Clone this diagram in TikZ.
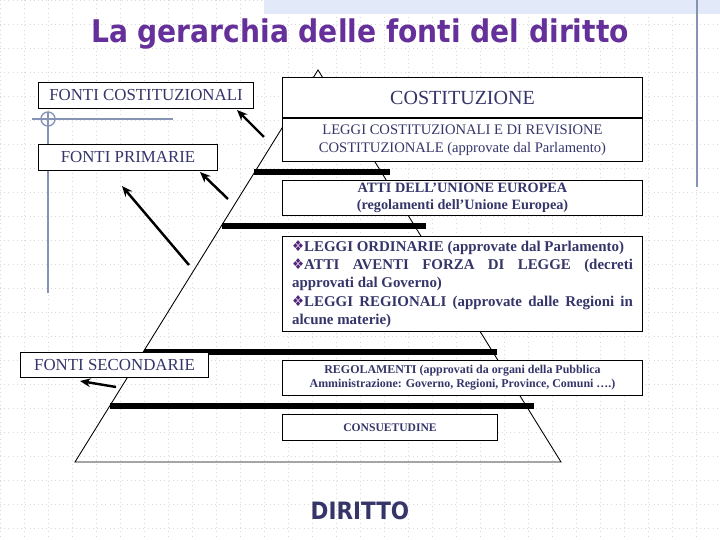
\documentclass[tikz,border=0pt]{standalone}
\usepackage{fontspec}
\setmainfont{Liberation Serif}
\newfontfamily\headfont{DejaVu Sans Condensed}
\usepackage{xcolor}
\definecolor{titlepurple}{HTML}{66309A}
\definecolor{inknavy}{HTML}{35356A}
\definecolor{rulegray}{HTML}{8593B4}
\definecolor{bandblue}{HTML}{E2E9F8}
\usetikzlibrary{
  positioning,
  arrows.meta,
  calc
}
\newcommand\nohyph{\hyphenpenalty=10000 \exhyphenpenalty=10000 }
\newcommand\bul{{\headfont\color{titlepurple!80!black}❖}}

\begin{document}
\begin{tikzpicture}[
  x=0.02cm, y=-0.02cm,
  every node/.style={text=inknavy, inner sep=0pt},
  gridline/.style={gray!30, dotted, line width=0.4pt},
  deco/.style={rulegray, line width=0.8pt},
  fonte/.style={draw=black, fill=white, line width=0.6pt,
    font=\fontsize{9.6}{11}\selectfont},
  livello/.style={draw=black, fill=white, line width=0.6pt,
    minimum width=204.7pt, align=center},
  barra/.style={line width=3pt, black},
  freccia/.style={line width=1.4pt, -{Stealth[length=6pt,width=5pt]}}
]
\useasboundingbox (0,0) rectangle (720,540);

% Background grid
\foreach \gx in {0,24,...,720}
  \draw[gridline] (\gx,0) -- (\gx,540);
\foreach \gy in {0,24,...,540}
  \draw[gridline] (0,\gy) -- (720,\gy);

% Slide decorations
\fill[bandblue] (264,0) rectangle (720,14);
\draw[deco] (697,0) -- (697,187);
\draw[deco] (32,119) -- (173,119);
\draw[deco] (48,112) -- (48,293);
\draw[deco] (48,119) circle[radius=4pt];

% Title
\node[font=\headfont\bfseries\fontsize{17.8}{21}\selectfont, text=titlepurple]
  (titolo) at (360,34) {La gerarchia delle fonti del diritto};

% Pyramid
\coordinate (apice) at (318,70);
\coordinate (bsx) at (75,462);
\coordinate (bdx) at (561,462);
\draw[line width=0.5pt] (apice) -- (bsx) -- (bdx) -- cycle;

% Levels
\node[livello, minimum height=23.2pt, font=\fontsize{11.4}{13}\selectfont]
  (cost) at (462.5,97.5) {COSTITUZIONE};
\node[livello, minimum height=25pt, font=\fontsize{8.3}{10.2}\selectfont]
  (leggicost) at (462.5,140)
  {LEGGI COSTITUZIONALI E DI REVISIONE\\COSTITUZIONALE (approvate dal Parlamento)};
\node[livello, minimum height=20.4pt, font=\bfseries\fontsize{8.1}{10}\selectfont]
  (ue) at (462.5,198)
  {ATTI DELL’UNIONE EUROPEA\\(regolamenti dell’Unione Europea)};
\node[livello, minimum height=54.4pt, text width=194pt, align=justify,
  font=\bfseries\fontsize{8.5}{10.4}\selectfont]
  (ordin) at (462.5,284)
  {\nohyph\bul LEGGI ORDINARIE (approvate dal Parlamento)\par
   \bul ATTI AVENTI FORZA DI LEGGE (decreti approvati dal Governo)\par
   \bul LEGGI REGIONALI (approvate dalle Regioni in alcune materie)};
\node[livello, minimum height=20.4pt, font=\bfseries\fontsize{6.8}{8}\selectfont]
  (regol) at (462.5,378)
  {REGOLAMENTI (approvati da organi della Pubblica\\Amministrazione: Governo, Regioni, Province, Comuni ….)};
\node[livello, minimum width=122.4pt, minimum height=15.3pt,
  font=\bfseries\fontsize{6.6}{8}\selectfont]
  (consu) at (390,427.5) {CONSUETUDINE};

% Separators
\draw[barra] (254,172) -- (390,172);
\draw[barra] (222,226) -- (426,226);
\draw[barra] (144,352) -- (497,352);
\draw[barra] (110,406) -- (534,406);

% Sources
\node[fonte, minimum width=122.4pt, minimum height=15.3pt]
  (fcost) at (146,95.5) {FONTI COSTITUZIONALI};
\node[fonte, minimum width=102pt, minimum height=15.3pt]
  (fprim) at (128,157.5) {FONTI PRIMARIE};
\node[fonte, minimum width=107pt, minimum height=14.7pt]
  (fsec) at (114.5,365) {FONTI SECONDARIE};

% Arrows
\coordinate (c1) at (264,137);
\coordinate (c2) at (228,199);
\coordinate (c3) at (189,265);
\coordinate (c4) at (116,387);
\coordinate (p1) at (237,110);
\coordinate (p2) at (200,172);
\coordinate (p3) at (122,186);
\coordinate (p4) at (80,381);
\draw[freccia] (c1) -- (p1);
\draw[freccia] (c2) -- (p2);
\draw[freccia] (c3) -- (p3);
\draw[freccia] (c4) -- (p4);

% Bottom label
\node[font=\headfont\bfseries\fontsize{13.6}{15}\selectfont]
  (diritto) at (360,511) {DIRITTO};
\end{tikzpicture}
\end{document}
